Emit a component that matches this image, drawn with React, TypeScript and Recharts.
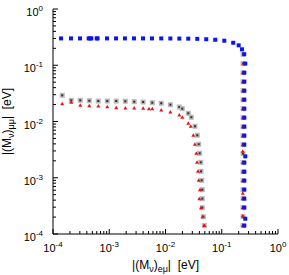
import { ScatterChart, Scatter, XAxis, YAxis } from "recharts";

// ---- data ----
const blueX = [
  1.39e-4, 2.09e-4, 3.02e-4, 4.3e-4, 4.55e-4, 4.8e-4, 5.98e-4, 6.2e-4, 9.12e-4,
  1.32e-3, 1.9e-3, 2.75e-3, 3.98e-3, 5.75e-3, 8.4e-3, 0.0122, 0.0176, 0.0254,
  0.0367, 0.053, 0.0767, 0.111, 0.16, 0.2, 0.229, 0.251,
  0.262, 0.252, 0.252, 0.252, 0.252, 0.252, 0.252, 0.252, 0.252, 0.252, 0.262,
  0.252, 0.252, 0.252, 0.252, 0.252, 0.252, 0.262, 0.252,
];
const blueY = [
  0.3, 0.3, 0.3, 0.3, 0.3, 0.3, 0.3, 0.3, 0.3,
  0.3, 0.3, 0.3, 0.3, 0.3, 0.3, 0.299, 0.298, 0.297,
  0.295, 0.29, 0.284, 0.273, 0.251, 0.226, 0.192, 0.157,
  0.107, 0.0737, 0.051, 0.0353, 0.0244, 0.0169, 0.0117, 8.09e-3, 5.6e-3, 3.88e-3, 2.4e-3,
  1.86e-3, 1.28e-3, 8.9e-4, 6.15e-4, 4.26e-4, 2.95e-4, 1.87e-4, 1.41e-4,
];

const grayX = [
  1.46e-4, 2.11e-4, 3.05e-4, 4.42e-4, 6.38e-4, 9.22e-4, 1.33e-3, 1.93e-3, 2.78e-3,
  4.0e-3, 5.82e-3, 8.4e-3, 0.0122, 0.0176, 0.0199, 0.0254, 0.0288, 0.0334, 0.0367,
  0.0389, 0.0405, 0.0423, 0.0428, 0.044, 0.0451, 0.0451, 0.0451, 0.047, 0.049,
  0.239, 0.239, 0.239, 0.239, 0.239, 0.239, 0.239, 0.239, 0.239, 0.239,
  0.239, 0.239, 0.239, 0.239, 0.239, 0.239, 0.239, 0.239, 0.239, 0.239,
];
const grayY = [
  0.0292, 0.0238, 0.0238, 0.0234, 0.0231, 0.0231, 0.0231, 0.0229, 0.0225,
  0.0222, 0.0216, 0.0211, 0.0199, 0.0181, 0.0169, 0.014, 0.0119, 8.22e-3, 5.69e-3,
  3.94e-3, 2.72e-3, 1.88e-3, 1.3e-3, 9.0e-4, 6.13e-4, 4.25e-4, 2.94e-4, 2.03e-4, 1.41e-4,
  0.157, 0.107, 0.0737, 0.051, 0.0353, 0.0244, 0.0169, 0.0117, 8.09e-3, 5.6e-3,
  3.88e-3, 2.68e-3, 1.86e-3, 1.28e-3, 8.9e-4, 6.15e-4, 4.26e-4, 2.95e-4, 2.04e-4, 1.41e-4,
];

const redX = [
  1.46e-4, 2.11e-4, 3.05e-4, 4.42e-4, 6.38e-4, 9.22e-4, 1.33e-3, 1.93e-3, 2.78e-3,
  4.0e-3, 5.09e-3, 5.82e-3, 8.4e-3, 0.0122, 0.0176, 0.0199, 0.0254, 0.0281, 0.0312,
  0.0334, 0.0353, 0.0363, 0.0378, 0.0389, 0.041, 0.0399, 0.0428, 0.0458, 0.049,
  0.243, 0.237, 0.237, 0.237, 0.237, 0.237, 0.237, 0.237, 0.237, 0.237,
  0.236, 0.237, 0.237, 0.237, 0.236, 0.237, 0.237, 0.236, 0.237,
];
const redY = [
  0.0207, 0.0219, 0.0194, 0.0191, 0.0189, 0.0183, 0.0176, 0.0174, 0.0174,
  0.0172, 0.0169, 0.0169, 0.016, 0.0148, 0.0131, 0.0119, 9.3e-3, 8.22e-3, 5.69e-3,
  3.94e-3, 2.72e-3, 1.88e-3, 1.3e-3, 9.0e-4, 6.13e-4, 4.25e-4, 2.94e-4, 2.03e-4, 1.41e-4,
  0.107, 0.0737, 0.051, 0.0353, 0.0244, 0.0169, 0.0117, 8.09e-3, 5.6e-3, 3.88e-3,
  2.95e-3, 1.86e-3, 1.28e-3, 8.9e-4, 5.3e-4, 4.26e-4, 2.95e-4, 2.1e-4, 1.41e-4,
];

const majorTicks = [1e-4, 1e-3, 1e-2, 1e-1, 1];
const exponentLabels = ["-4", "-3", "-2", "-1", "0"];
const minorSteps = [2, 3, 4, 5, 6, 7, 8, 9];
const allTicks = [
  ...majorTicks,
  ...majorTicks.slice(0, -1).flatMap((m) => minorSteps.map((s) => s * m)),
];

const toPoints = (xs: number[], ys: number[]) => xs.map((x, i) => ({ x, y: ys[i] }));
const blueData = toPoints(blueX, blueY);
const grayData = toPoints(grayX, grayY);
const redData = toPoints(redX, redY);

const FONT = "'Liberation Sans', Arial, Helvetica, sans-serif";
const MAJOR = 5;
const MINOR = 3;

const majorIndex = (v: number) => majorTicks.findIndex((m) => Math.abs(m - v) / m < 1e-6);

// ---- tick renderers (inward ticks on all four sides) ----
const BottomTick = ({ x, y, payload }: any) => {
  const i = majorIndex(payload.value);
  return (
    <g>
      <line x1={x} x2={x} y1={y} y2={y - (i >= 0 ? MAJOR : MINOR)} stroke="#000" />
      {i >= 0 && (
        <text x={x} y={y + 18} textAnchor="middle" fontSize={11} fontFamily={FONT} fill="#000">
          10<tspan dy={-5} fontSize={8}>{exponentLabels[i]}</tspan>
        </text>
      )}
    </g>
  );
};

const TopTick = ({ x, y, payload }: any) => {
  const i = majorIndex(payload.value);
  return <line x1={x} x2={x} y1={y} y2={y + (i >= 0 ? MAJOR : MINOR)} stroke="#000" />;
};

const LeftTick = ({ x, y, payload }: any) => {
  const i = majorIndex(payload.value);
  return (
    <g>
      <line x1={x} x2={x + (i >= 0 ? MAJOR : MINOR)} y1={y} y2={y} stroke="#000" />
      {i >= 0 && (
        <text x={x - 10} y={y + 7} textAnchor="end" fontSize={11} fontFamily={FONT} fill="#000">
          10<tspan dy={-5} fontSize={8}>{exponentLabels[i]}</tspan>
        </text>
      )}
    </g>
  );
};

const RightTick = ({ x, y, payload }: any) => {
  const i = majorIndex(payload.value);
  return <line x1={x} x2={x - (i >= 0 ? MAJOR : MINOR)} y1={y} y2={y} stroke="#000" />;
};

// ---- axis titles ----
const XTitle = ({ viewBox }: any) => {
  const { x, y, width } = viewBox;
  return (
    <text x={x + width / 2} y={y + 35} textAnchor="middle" fontSize={12} fontFamily={FONT} fill="#000">
      |(M<tspan dy={2.5} fontSize={9}>ν</tspan>
      <tspan dy={-2.5}>)</tspan>
      <tspan dy={2.5} fontSize={9}>eμ</tspan>
      <tspan dy={-2.5}>|{"\u00a0\u00a0"}[eV]</tspan>
    </text>
  );
};

const YTitle = ({ viewBox }: any) => {
  const { x, y, height } = viewBox;
  const cx = x + 11;
  const cy = y + height / 2;
  return (
    <text
      x={cx}
      y={cy}
      transform={`rotate(-90, ${cx}, ${cy})`}
      textAnchor="middle"
      fontSize={12}
      fontFamily={FONT}
      fill="#000"
    >
      |(M<tspan dy={2.5} fontSize={9}>ν</tspan>
      <tspan dy={-2.5}>)</tspan>
      <tspan dy={2.5} fontSize={9}>μμ</tspan>
      <tspan dy={-2.5}>|{"\u00a0\u00a0"}[eV]</tspan>
    </text>
  );
};

// ---- markers ----
const BlueSquare = ({ cx, cy }: any) => (
  <rect x={cx - 2} y={cy - 2} width={4} height={4} fill="#0a14f5" />
);

const GrayBox = ({ cx, cy }: any) => (
  <g>
    <rect x={cx - 2.5} y={cy - 2.5} width={5} height={5} fill="#b8b8b8" />
    <rect x={cx - 1} y={cy - 1} width={2} height={2} fill="#303030" />
  </g>
);

const RedTriangle = ({ cx, cy }: any) => (
  <path d={`M${cx - 2},${cy + 1.5} L${cx + 2},${cy + 1.5} L${cx},${cy - 2} Z`} fill="#f01010" />
);

const Nothing = () => <g />;

export default function App() {
  return (
    <div style={{ position: "absolute", left: 0, top: 0, background: "#fff" }}>
      <ScatterChart width={289} height={275} margin={{ top: 9, right: 11, left: 0, bottom: 0 }}>
        <XAxis
          xAxisId="b"
          orientation="bottom"
          type="number"
          dataKey="x"
          scale="log"
          domain={[1e-4, 1]}
          allowDataOverflow
          ticks={allTicks}
          interval={0}
          tickSize={0}
          tickMargin={0}
          tickLine={false}
          tick={(p: any) => <BottomTick {...p} />}
          axisLine={{ stroke: "#000" }}
          height={41}
          label={<XTitle />}
        />
        <XAxis
          xAxisId="t"
          orientation="top"
          type="number"
          dataKey="x"
          scale="log"
          domain={[1e-4, 1]}
          allowDataOverflow
          ticks={allTicks}
          interval={0}
          tickSize={0}
          tickMargin={0}
          tickLine={false}
          tick={(p: any) => <TopTick {...p} />}
          axisLine={{ stroke: "#000" }}
          height={0}
        />
        <YAxis
          yAxisId="l"
          orientation="left"
          type="number"
          dataKey="y"
          scale="log"
          domain={[1e-4, 1]}
          allowDataOverflow
          ticks={allTicks}
          interval={0}
          tickSize={0}
          tickMargin={0}
          tickLine={false}
          tick={(p: any) => <LeftTick {...p} />}
          axisLine={{ stroke: "#000" }}
          width={53}
          label={<YTitle />}
        />
        <YAxis
          yAxisId="r"
          orientation="right"
          type="number"
          dataKey="y"
          scale="log"
          domain={[1e-4, 1]}
          allowDataOverflow
          ticks={allTicks}
          interval={0}
          tickSize={0}
          tickMargin={0}
          tickLine={false}
          tick={(p: any) => <RightTick {...p} />}
          axisLine={{ stroke: "#000" }}
          width={0}
        />
        <Scatter xAxisId="t" yAxisId="r" data={grayData} shape={<Nothing />} isAnimationActive={false} />
        <Scatter xAxisId="b" yAxisId="l" data={grayData} shape={<GrayBox />} isAnimationActive={false} />
        <Scatter xAxisId="b" yAxisId="l" data={redData} shape={<RedTriangle />} isAnimationActive={false} />
        <Scatter xAxisId="b" yAxisId="l" data={blueData} shape={<BlueSquare />} isAnimationActive={false} />
      </ScatterChart>
    </div>
  );
}
